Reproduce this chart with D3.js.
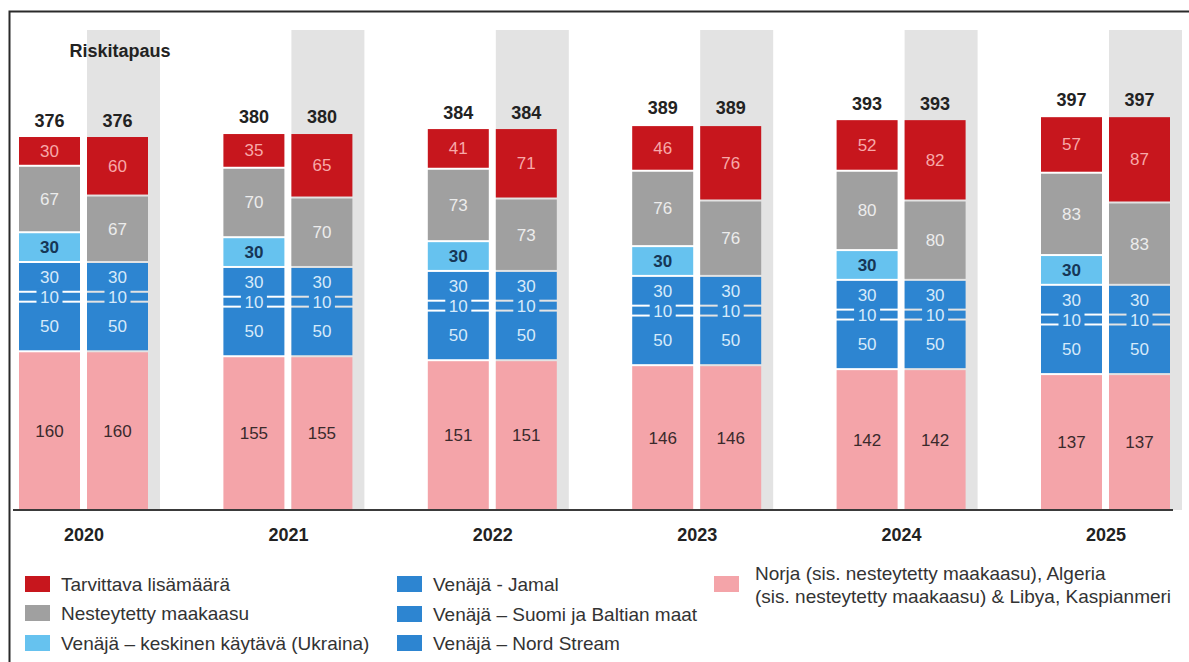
<!DOCTYPE html>
<html>
<head>
<meta charset="utf-8">
<script src="https://cdn.jsdelivr.net/npm/d3@7"></script>
<style>
  html, body { margin: 0; padding: 0; background: #fff; }
  svg { display: block; font-family: "Liberation Sans", Arial, sans-serif; }
</style>
</head>
<body>
<svg id="chart" width="1189" height="662"></svg>
<script>
// ---- data ----
const years = ["2020", "2021", "2022", "2023", "2024", "2025"];
const totals = [376, 380, 384, 389, 393, 397];
const norja = [160, 155, 151, 146, 142, 137];
const nordStream = [50, 50, 50, 50, 50, 50];
const suomiBaltia = [10, 10, 10, 10, 10, 10];
const jamal = [30, 30, 30, 30, 30, 30];
const ukraina = [30, 30, 30, 30, 30, 30];
const lng = [67, 70, 73, 76, 80, 83];
const lisaBase = [30, 35, 41, 46, 52, 57];
const lisaRisk = [60, 65, 71, 76, 82, 87];
const scenarios = ["base", "risk"];
const keys = ["norja", "nord", "suomi", "jamal", "ukraina", "lng", "lisa"];
const legendLabels = {
  lisa: "Tarvittava lisämäärä",
  lng: "Nesteytetty maakaasu",
  ukraina: "Venäjä – keskinen käytävä (Ukraina)",
  jamal: "Venäjä - Jamal",
  suomi: "Venäjä – Suomi ja Baltian maat",
  nord: "Venäjä – Nord Stream",
  norja: ["Norja (sis. nesteytetty maakaasu), Algeria", "(sis. nesteytetty maakaasu) & Libya, Kaspianmeri"]
};

// ---- styles ----
const colors = {
  norja: "#f4a4a9", nord: "#2d85d1", suomi: "#2d85d1", jamal: "#2d85d1",
  ukraina: "#66c2ef", lng: "#a0a0a0", lisa: "#c7161d"
};
const labelColors = {
  norja: "#3a2a2c", nord: "#d6eafa", suomi: "#d6eafa", jamal: "#d6eafa",
  ukraina: "#163656", lng: "#ececec", lisa: "#f7a9a9"
};

// ---- table ----
const rows = [];
years.forEach((yr, i) => {
  scenarios.forEach(sc => {
    rows.push({
      year: yr, scen: sc, total: totals[i],
      norja: norja[i], nord: nordStream[i], suomi: suomiBaltia[i], jamal: jamal[i],
      ukraina: sc === "base" ? ukraina[i] : 0,
      lng: lng[i],
      lisa: sc === "base" ? lisaBase[i] : lisaRisk[i]
    });
  });
});

const svg = d3.select("#chart");
const baseY = 510;

const x = d3.scalePoint().domain(years).range([83.5, 1105.5]);
const xs = d3.scaleBand().domain(scenarios).range([-64.5, 64.5]).paddingInner(0.103);
const y = d3.scaleLinear().domain([0, 400]).range([baseY, baseY - 400 * 0.992]);
const bw = xs.bandwidth();

// frame (left + top)
svg.append("path").attr("d", "M9.5,662 L9.5,11.5 L1189,11.5")
  .attr("fill", "none").attr("stroke", "#2a2a2a").attr("stroke-width", 2);

// grey background for risk case
svg.append("g").selectAll("rect").data(years).join("rect")
  .attr("x", d => x(d) + xs("risk"))
  .attr("y", 30)
  .attr("width", bw + 12)
  .attr("height", baseY - 30)
  .attr("fill", "#e3e3e3");

svg.append("text").attr("x", 120).attr("y", 57).attr("text-anchor", "middle")
  .attr("font-size", 18).attr("font-weight", "bold").attr("fill", "#222")
  .text("Riskitapaus");

// stacks
const stack = d3.stack().keys(keys);
const series = stack(rows);

const gBars = svg.append("g");
series.forEach(s => {
  const key = s.key;
  const g = gBars.append("g");
  g.selectAll("rect").data(s.filter(d => d[1] - d[0] > 0)).join("rect")
    .attr("x", d => x(d.data.year) + xs(d.data.scen))
    .attr("y", d => y(d[1]) + 1)
    .attr("width", bw)
    .attr("height", d => Math.max(0, y(d[0]) - y(d[1]) - 2))
    .attr("fill", colors[key]);
});

// labels
series.forEach(s => {
  const key = s.key;
  const g = gBars.append("g");
  const data = s.filter(d => d[1] - d[0] > 0);
  if (key === "suomi") {
    g.selectAll("rect.bg").data(data).join("rect")
      .attr("x", d => x(d.data.year) + xs(d.data.scen) + bw / 2 - 13)
      .attr("y", d => (y(d[0]) + y(d[1])) / 2 - 8)
      .attr("width", 26).attr("height", 16)
      .attr("fill", colors[key]);
  }
  g.selectAll("text").data(data).join("text")
    .attr("x", d => x(d.data.year) + xs(d.data.scen) + bw / 2)
    .attr("y", d => (y(d[0]) + y(d[1])) / 2 + 6)
    .attr("text-anchor", "middle")
    .attr("font-size", 17)
    .attr("font-weight", key === "ukraina" ? "bold" : "normal")
    .attr("fill", labelColors[key])
    .text(d => d[1] - d[0]);
});

// totals
svg.append("g").selectAll("text").data(rows).join("text")
  .attr("x", d => x(d.year) + xs(d.scen) + bw / 2)
  .attr("y", d => y(d.total) - 10)
  .attr("text-anchor", "middle")
  .attr("font-size", 18).attr("font-weight", "bold").attr("fill", "#222")
  .text(d => d.total);

// axis
const axis = d3.axisBottom(x).tickSize(0).tickPadding(18);
const ga = svg.append("g").attr("transform", `translate(0,${baseY})`).call(axis);
ga.select(".domain").remove();
ga.selectAll("text").attr("font-size", 18).attr("font-weight", "bold")
  .attr("fill", "#222").attr("font-family", "'Liberation Sans', Arial, sans-serif");
svg.append("line").attr("x1", 13).attr("x2", 1173).attr("y1", baseY).attr("y2", baseY)
  .attr("stroke", "#3a3a3a").attr("stroke-width", 2);

// legend
const legendLayout = [
  { key: "lisa", x: 25, y: 584 },
  { key: "lng", x: 25, y: 613 },
  { key: "ukraina", x: 25, y: 643 },
  { key: "jamal", x: 397, y: 584 },
  { key: "suomi", x: 397, y: 614 },
  { key: "nord", x: 397, y: 643 },
  { key: "norja", x: 714, y: 584 }
];
const gl = svg.append("g");
legendLayout.forEach(l => {
  gl.append("rect").attr("x", l.x).attr("y", l.y - 8).attr("width", 25).attr("height", 16)
    .attr("fill", colors[l.key]);
  const lab = legendLabels[l.key];
  const t = gl.append("text").attr("x", l.x + 36).attr("font-size", 19).attr("fill", "#333");
  if (Array.isArray(lab)) {
    lab.forEach((line, j) => t.append("tspan").attr("x", l.x + 41).attr("y", l.y - 4 + j * 23).text(line));
  } else {
    t.attr("y", l.y + 6.5).text(lab);
  }
});
</script>
</body>
</html>
